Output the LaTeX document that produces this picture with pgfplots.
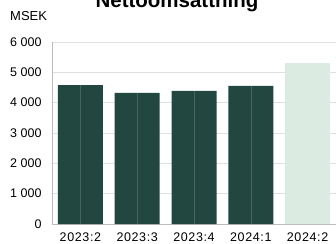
\documentclass[border=0pt]{standalone}
\usepackage{pgfplots}
\pgfplotsset{compat=1.18}
\usepackage{fontspec}
\setmainfont{Liberation Sans}
\newfontfamily\xlab[LetterSpace=5]{Liberation Sans}
\definecolor{darkg}{HTML}{214740}
\definecolor{lightg}{HTML}{DBEBE1}
\definecolor{midline}{HTML}{46675F}
\definecolor{gridc}{HTML}{E0E0E0}
\definecolor{axc}{HTML}{BDBDBD}
\begin{document}
\begin{tikzpicture}[x=1bp,y=1bp]
\path[use as bounding box] (0,0) rectangle (336,244);
\begin{axis}[
  at={(52bp,20bp)}, anchor=south west,
  scale only axis, width=284bp, height=182bp,
  xmin=-0.5, xmax=4.5, ymin=0, ymax=6000,
  xtick={0,1,2,3,4},
  xticklabels={2023:2,2023:3,2023:4,2024:1,2024:2},
  ytick={0,1000,2000,3000,4000,5000,6000},
  yticklabels={0,1 000,2 000,3 000,4 000,5 000,6 000},
  axis x line*=bottom, axis y line*=left,
  axis line style={axc, line width=1bp, -},
  major tick length=0pt,
  ymajorgrids, grid style={gridc, line width=1bp},
  yticklabel style={font=\fontsize{12.5bp}{15bp}\selectfont, text=black, anchor=east, xshift=-7bp},
  xticklabel style={font=\xlab\fontsize{12.5bp}{15bp}\selectfont, text=black, anchor=base, yshift=-17.5bp},
  clip=false,
]
\addplot[ybar, bar width=45bp, fill=darkg, draw=none] coordinates {(0,4580) (1,4320) (2,4385) (3,4550)};
\addplot[ybar, bar width=45bp, fill=lightg, draw=none] coordinates {(4,5310)};
\addplot[ycomb, midline, line width=0.6bp, mark=none] coordinates {(0,4580) (1,4320) (2,4385) (3,4550)};
\end{axis}
\node[anchor=base, inner sep=0pt, font=\fontsize{20.5bp}{23bp}\selectfont\bfseries] at (177,237) {Nettoomsättning};
\node[anchor=base west, inner sep=0pt, font=\fontsize{13bp}{15bp}\selectfont] at (10,223.5) {MSEK};
\end{tikzpicture}
\end{document}
